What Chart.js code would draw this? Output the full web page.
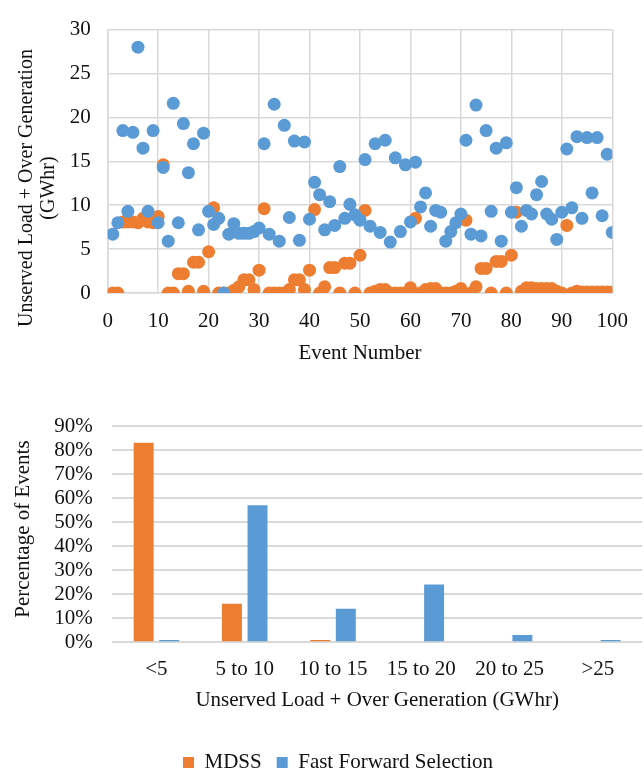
<!DOCTYPE html>
<html>
<head>
<meta charset="utf-8">
<script src="https://cdn.jsdelivr.net/npm/chart.js@4.4.1/dist/chart.umd.min.js"></script>
<style>
  html, body { margin: 0; padding: 0; background: #fff; overflow: hidden; }
  #arriba { position: absolute; left: 0; top: 0; width: 644px; height: 370px; }
  #abajo { position: absolute; left: 0; top: 370px; width: 644px; height: 403px; }
</style>
</head>
<body>
<div id="arriba"><canvas id="dispersion"></canvas></div>
<div id="abajo"><canvas id="barras"></canvas></div>
<script>
// valores por evento (GWhr), evento 1..100
const mdss = [
  0, 0, 8.1, 8.1, 8.1, 8.0, 8.5, 8.1, 8.0, 8.7,
  14.6, 0, 0, 2.2, 2.2, 0.2, 3.5, 3.5, 0.2, 4.7,
  9.7, 0, 0, 0, 0.3, 0.7, 1.5, 1.5, 0.4, 2.6,
  9.6, 0, 0, 0, 0, 0.4, 1.5, 1.5, 0.4, 2.6,
  9.5, 0, 0.7, 2.9, 2.9, 0, 3.4, 3.4, 0, 4.3,
  9.4, 0, 0.2, 0.4, 0.4, 0, 0, 0, 0, 0.6,
  8.5, 0, 0.4, 0.5, 0.5, 0, 0, 0, 0.2, 0.5,
  8.3, 0, 0.7, 2.8, 2.8, 0, 3.6, 3.6, 0, 4.3,
  9.2, 0.2, 0.6, 0.6, 0.5, 0.5, 0.5, 0.5, 0.2, 0,
  7.7, 0, 0.2, 0.1, 0.1, 0.1, 0.1, 0.1, 0.1, 0.1
]
const ffs = [
  6.7, 8.0, 18.5, 9.3, 18.3, 28.0, 16.5, 9.3, 18.5, 8.0,
  14.3, 5.9, 21.6, 8.0, 19.3, 13.7, 17.0, 7.2, 18.2, 9.3,
  7.8, 8.5, 0.0, 6.7, 7.9, 6.8, 6.8, 6.8, 7.0, 7.4,
  17.0, 6.7, 21.5, 5.9, 19.1, 8.6, 17.3, 6.0, 17.2, 8.4,
  12.6, 11.2, 7.2, 10.4, 7.7, 14.4, 8.5, 10.1, 8.9, 8.3,
  15.2, 7.6, 17.0, 6.9, 17.4, 5.8, 15.4, 7.0, 14.6, 8.1,
  14.9, 9.8, 11.4, 7.6, 9.4, 9.2, 5.9, 7.0, 8.0, 9.0,
  17.4, 6.7, 21.4, 6.5, 18.5, 9.3, 16.5, 5.9, 17.1, 9.2,
  12.0, 7.6, 9.4, 9.0, 11.2, 12.7, 9.0, 8.4, 6.1, 9.2,
  16.4, 9.7, 17.8, 8.5, 17.7, 11.4, 17.7, 8.8, 15.8, 6.9
]

// histograma (% de eventos)
const rangos = ['<5', '5 to 10', '10 to 15', '15 to 20', '20 to 25', '>25']
const pctmdss = [83, 16, 1, 0, 0, 0]
const pctffs = [1, 57, 14, 24, 3, 1]

const naranja = '#ED7D31'
const azul = '#5B9BD5'
const grilla = '#d9d9d9'
const letra = '"Liberation Serif", "Times New Roman", serif'
const texto = '#111'

Chart.defaults.font.family = letra
Chart.defaults.font.size = 21
Chart.defaults.color = texto
Chart.defaults.animation = false

// titulo del eje y dibujado a mano (excel lo centra distinto)
const ytitulo = {
  id: 'ytitulo',
  afterDraw(chart, args, opts) {
    const ctx = chart.ctx
    ctx.save()
    ctx.font = opts.size + 'px ' + letra
    ctx.fillStyle = texto
    ctx.textAlign = 'center'
    ctx.textBaseline = 'middle'
    opts.lineas.forEach((t, i) => {
      ctx.save()
      ctx.translate(opts.x[i], opts.y)
      ctx.rotate(-Math.PI / 2)
      ctx.fillText(t, 0, 0)
      ctx.restore()
    })
    ctx.restore()
  }
}

new Chart(document.getElementById('dispersion'), {
  type: 'scatter',
  data: {
    datasets: [{
      label: 'MDSS',
      data: mdss.map((v, i) => ({x: i + 1, y: v})),
      backgroundColor: naranja,
      borderWidth: 0,
      pointRadius: 6.5,
      order: 1
    }, {
      label: 'Fast Forward Selection',
      data: ffs.map((v, i) => ({x: i + 1, y: v})),
      backgroundColor: azul,
      borderWidth: 0,
      pointRadius: 6.5,
      order: 0
    }]
  },
  options: {
    responsive: true,
    maintainAspectRatio: false,
    layout: { padding: { top: 22, right: 19, left: 0, bottom: 0 } },
    plugins: {
      legend: { display: false },
      tooltip: { enabled: false },
      ytitulo: { lineas: ['Unserved Load + Over Generation', '(GWhr)'], x: [27, 49], y: 188, size: 20 }
    },
    scales: {
      x: {
        min: 0, max: 100,
        ticks: { stepSize: 10, padding: 16 },
        grid: { color: grilla, lineWidth: 1.5, drawTicks: false },
        border: { color: grilla, width: 1.5 },
        title: { display: true, text: 'Event Number', padding: { top: 0, bottom: 4 } },
        afterFit: (s) => { s.height = 77 }
      },
      y: {
        min: 0, max: 30,
        ticks: { stepSize: 5, padding: 17 },
        grid: { color: grilla, lineWidth: 1.5, drawTicks: false },
        border: { color: grilla, width: 1.5 },
        afterFit: (s) => { s.width = 107.7 }
      }
    }
  },
  plugins: [ytitulo]
})

new Chart(document.getElementById('barras'), {
  type: 'bar',
  data: {
    labels: rangos,
    datasets: [{
      label: 'MDSS',
      data: pctmdss,
      backgroundColor: naranja,
      categoryPercentage: 0.58,
      barPercentage: 0.78
    }, {
      label: 'Fast Forward Selection',
      data: pctffs,
      backgroundColor: azul,
      categoryPercentage: 0.58,
      barPercentage: 0.78
    }]
  },
  options: {
    responsive: true,
    maintainAspectRatio: false,
    layout: { padding: { top: 56, right: 2, left: 34, bottom: -10 } },
    plugins: {
      legend: {
        position: 'bottom',
        labels: { boxWidth: 11, boxHeight: 11, padding: 15, font: { size: 21 } }
      },
      tooltip: { enabled: false },
      ytitulo: { lineas: ['Percentage of Events'], x: [23], y: 159, size: 21 }
    },
    scales: {
      x: {
        ticks: { padding: 7, autoSkip: false, maxRotation: 0 },
        grid: { display: false },
        border: { display: false },
        title: { display: true, text: 'Unserved Load + Over Generation (GWhr)', padding: { top: 0, bottom: 24 } },
        afterFit: (s) => { s.height = 94.7 }
      },
      y: {
        min: 0, max: 90,
        ticks: { stepSize: 10, padding: 19.6, autoSkip: false, callback: (v) => v + '%' },
        grid: { color: grilla, lineWidth: 2, drawTicks: false },
        border: { display: false },
        afterFit: (s) => { s.width = 78.3 }
      }
    }
  },
  plugins: [ytitulo]
})
</script>
</body>
</html>
